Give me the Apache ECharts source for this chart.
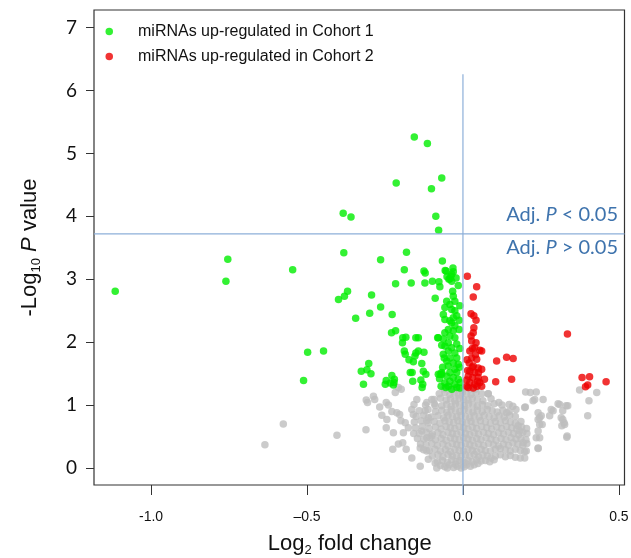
<!DOCTYPE html>
<html><head><meta charset="utf-8">
<script src="https://cdn.jsdelivr.net/npm/echarts@6/dist/echarts.min.js"></script>
<style>html,body{margin:0;padding:0;background:#fff}#c{width:631px;height:558px}</style>
</head><body><div id="c"></div>
<script>
// miRNAs up-regulated in Cohort 1 (green)  [log2 fold change, -log10 P]
const cohort1Points = [
[-1.115,2.81],[-0.754,3.32],[-0.760,2.97],[-0.546,3.15],[-0.511,1.39],[-0.498,1.84],[-0.447,1.86],
[-0.156,5.26],[-0.114,5.16],[-0.214,4.53],[-0.068,4.61],[-0.101,4.44],[-0.384,4.05],[-0.359,3.99],[-0.087,4.00],[-0.078,3.78],
[-0.382,3.42],[-0.181,3.43],[-0.264,3.31],[-0.066,3.29],[-0.188,3.15],[-0.125,3.13],[-0.121,3.10],[-0.057,3.14],[-0.032,3.18],[-0.036,3.08],[-0.051,3.04],[-0.042,3.01],[-0.031,3.12],[-0.054,3.13],[-0.039,3.05],[-0.045,3.00],[-0.036,2.97],
[-0.216,2.93],[-0.166,2.94],[-0.122,2.94],[-0.098,2.97],[-0.077,2.96],[-0.074,2.88],
[-0.399,2.68],[-0.380,2.73],[-0.370,2.81],[-0.293,2.75],[-0.264,2.56],[-0.299,2.46],[-0.344,2.38],[-0.227,2.44],[-0.089,2.70],
[-0.033,2.81],[-0.031,2.73],[-0.052,2.65],[-0.042,2.60],[-0.026,2.65],[-0.036,2.52],[-0.026,2.50],[-0.020,2.42],[-0.031,2.39],[-0.042,2.34],[-0.063,2.44],[-0.058,2.36],[-0.036,2.31],[-0.026,2.26],[-0.047,2.20],[-0.058,2.15],[-0.031,2.18],[-0.042,2.10],[-0.026,2.07],[-0.063,2.05],[-0.079,2.07],[-0.047,1.99],[-0.020,1.97],[-0.058,1.94],[-0.036,1.91],[-0.047,1.86],[-0.026,1.83],[-0.063,1.81],[-0.042,1.75],[-0.020,1.75],[-0.052,1.70],[-0.031,1.67],[-0.015,1.65],[-0.047,1.62],[-0.026,1.57],[-0.042,1.52],[-0.020,1.52],[-0.052,1.46],[-0.031,1.44],[-0.068,1.49],[-0.015,1.41],[-0.042,1.38],[-0.026,1.33],[-0.047,1.30],[-0.020,1.28],[-0.036,1.25],
[-0.010,2.58],[-0.012,2.20],[-0.010,1.90],[-0.011,1.60],[-0.009,1.36],[-0.060,1.75],[-0.065,1.60],[-0.058,1.35],[-0.070,1.30],[-0.075,1.42],[-0.015,2.90],[-0.058,2.55],[-0.012,2.35],[-0.068,1.95],[-0.055,1.28],[-0.010,1.27],[-0.022,3.02],
[-0.229,2.15],[-0.216,2.18],[-0.193,2.07],[-0.183,2.08],[-0.194,1.99],[-0.151,2.07],[-0.143,2.07],[-0.081,2.07],
[-0.188,1.86],[-0.185,1.81],[-0.151,1.83],[-0.143,1.86],[-0.125,1.84],[-0.154,1.78],[-0.173,1.72],[-0.159,1.69],[-0.132,1.66],
[-0.302,1.66],[-0.326,1.54],[-0.308,1.56],[-0.295,1.50],[-0.319,1.33],
[-0.246,1.39],[-0.228,1.47],[-0.220,1.41],[-0.249,1.33],[-0.223,1.32],[-0.233,1.35],[-0.221,1.36],
[-0.163,1.52],[-0.161,1.38],[-0.119,1.49],[-0.135,1.40],[-0.129,1.33],[-0.131,1.28],[-0.073,1.49],[-0.068,1.52],[-0.079,1.49],[-0.127,1.54],[-0.169,1.52]
];
// miRNAs up-regulated in Cohort 2 (red)
const cohort2Points = [
[0.014,3.05],[0.044,2.88],[0.033,2.72],[0.026,2.45],[0.035,2.42],[0.042,2.35],[0.035,2.23],[0.033,2.15],[0.028,2.02],[0.042,1.99],[0.038,1.91],[0.054,1.87],[0.060,1.86],[0.022,1.86],[0.028,1.75],[0.044,1.73],[0.020,1.67],[0.033,1.62],[0.049,1.59],[0.060,1.57],[0.022,1.54],[0.038,1.52],[0.017,1.46],[0.031,1.44],[0.049,1.44],[0.022,1.36],[0.038,1.33],[0.054,1.36],[0.017,1.28],[0.033,1.27],[0.069,1.41],[0.108,1.70],[0.140,1.76],[0.161,1.74],[0.105,1.37],[0.156,1.41],[0.335,2.13],[0.382,1.44],[0.406,1.45],[0.393,1.29],[0.400,1.32],[0.459,1.37],
[0.012,1.40],[0.015,1.55],[0.013,1.72],[0.045,1.30],[0.050,1.52],[0.030,1.90],[0.030,1.60],[0.026,2.10],[0.040,1.80],[0.047,1.38],[0.060,1.30],[0.012,1.30]
];
// not significant (grey)
const nsPoints = [
[-0.072,0.04],[-0.058,0.02],[-0.044,0.05],[-0.030,0.01],[-0.018,0.03],[-0.006,0.00],[0.004,0.02],[0.012,0.05],[-0.050,0.00],[-0.024,0.06],[0.008,0.08],[0.024,0.03],[0.036,0.05],[0.048,0.07],
[-0.082,0.10],[-0.066,0.12],[-0.050,0.09],[-0.036,0.13],[-0.022,0.10],[-0.010,0.12],[0.002,0.09],[0.016,0.12],[0.030,0.10],[0.044,0.13],[0.058,0.11],[0.072,0.12],[0.086,0.10],[0.100,0.13],
[-0.098,0.19],[-0.080,0.21],[-0.064,0.18],[-0.048,0.22],[-0.034,0.19],[-0.020,0.20],[-0.006,0.18],[0.008,0.21],[0.022,0.19],[0.036,0.22],[0.050,0.18],[0.064,0.21],[0.078,0.19],[0.090,0.16],[0.104,0.19],[0.120,0.21],[0.136,0.18],[0.152,0.20],[0.168,0.17],[0.184,0.16],
[-0.126,0.29],[-0.108,0.28],[-0.090,0.30],[-0.072,0.27],[-0.056,0.29],[-0.040,0.26],[-0.026,0.30],[-0.012,0.28],[0.002,0.27],[0.016,0.30],[0.030,0.28],[0.044,0.26],[0.058,0.30],[0.072,0.28],[0.088,0.27],[0.104,0.30],[0.120,0.31],[0.136,0.29],[0.152,0.27],[0.168,0.30],[0.184,0.28],[0.198,0.26],
[-0.136,0.38],[-0.118,0.37],[-0.100,0.39],[-0.082,0.36],[-0.064,0.38],[-0.048,0.35],[-0.034,0.39],[-0.020,0.37],[-0.006,0.36],[0.008,0.39],[0.022,0.37],[0.036,0.35],[0.050,0.38],[0.066,0.36],[0.082,0.39],[0.098,0.37],[0.114,0.35],[0.130,0.38],[0.146,0.36],[0.160,0.40],[0.176,0.38],[0.192,0.36],[0.205,0.39],
[-0.146,0.47],[-0.126,0.46],[-0.106,0.48],[-0.088,0.45],[-0.070,0.47],[-0.054,0.44],[-0.040,0.48],[-0.026,0.46],[-0.012,0.45],[0.002,0.48],[0.016,0.46],[0.030,0.44],[0.044,0.47],[0.058,0.45],[0.074,0.48],[0.090,0.46],[0.106,0.44],[0.122,0.47],[0.138,0.45],[0.154,0.48],[0.170,0.46],[0.186,0.47],[0.202,0.45],
[-0.158,0.55],[-0.140,0.55],[-0.118,0.57],[-0.098,0.54],[-0.080,0.56],[-0.064,0.53],[-0.048,0.57],[-0.034,0.55],[-0.020,0.54],[-0.006,0.57],[0.008,0.55],[0.022,0.53],[0.036,0.56],[0.050,0.54],[0.066,0.57],[0.082,0.55],[0.098,0.53],[0.114,0.56],[0.130,0.54],[0.146,0.57],[0.162,0.55],[0.178,0.53],[0.192,0.57],[0.205,0.55],
[-0.152,0.64],[-0.130,0.66],[-0.108,0.63],[-0.088,0.65],[-0.070,0.62],[-0.054,0.66],[-0.040,0.64],[-0.026,0.63],[-0.012,0.66],[0.002,0.64],[0.016,0.62],[0.030,0.65],[0.044,0.63],[0.060,0.66],[0.076,0.64],[0.092,0.62],[0.108,0.65],[0.124,0.63],[0.140,0.66],[0.156,0.64],[0.172,0.62],[0.188,0.65],[0.204,0.63],
[-0.156,0.73],[-0.134,0.75],[-0.112,0.72],[-0.092,0.74],[-0.074,0.71],[-0.058,0.75],[-0.044,0.73],[-0.030,0.72],[-0.016,0.75],[-0.002,0.73],[0.012,0.71],[0.026,0.74],[0.040,0.72],[0.056,0.75],[0.072,0.73],[0.088,0.71],[0.104,0.74],[0.120,0.72],[0.136,0.75],[0.152,0.73],[0.168,0.71],[0.186,0.74],
[-0.150,0.82],[-0.126,0.84],[-0.102,0.81],[-0.080,0.83],[-0.062,0.80],[-0.048,0.84],[-0.034,0.82],[-0.020,0.81],[-0.006,0.84],[0.008,0.82],[0.022,0.80],[0.036,0.83],[0.052,0.81],[0.068,0.84],[0.084,0.82],[0.100,0.80],[0.116,0.83],[0.132,0.81],[0.150,0.84],[0.168,0.82],
[-0.140,0.91],[-0.112,0.93],[-0.088,0.90],[-0.068,0.92],[-0.052,0.89],[-0.038,0.93],[-0.024,0.91],[-0.010,0.90],[0.004,0.93],[0.018,0.91],[0.032,0.89],[0.046,0.92],[0.062,0.90],[0.078,0.93],[0.094,0.91],[0.110,0.89],[0.128,0.92],[0.148,0.90],[0.170,0.93],
[-0.120,1.00],[-0.092,1.02],[-0.068,0.99],[-0.052,1.01],[-0.038,0.98],[-0.024,1.02],[-0.010,1.00],[0.004,0.99],[0.018,1.02],[0.032,1.00],[0.046,0.98],[0.062,1.01],[0.080,0.99],[0.100,1.02],[0.125,1.00],[0.160,0.98],
[-0.100,1.09],[-0.072,1.11],[-0.054,1.08],[-0.040,1.10],[-0.026,1.07],[-0.012,1.11],[0.002,1.09],[0.016,1.08],[0.030,1.11],[0.046,1.09],[0.064,1.07],[0.090,1.10],
[-0.076,1.18],[-0.058,1.20],[-0.042,1.17],[-0.028,1.19],[-0.014,1.16],[-0.002,1.20],[0.012,1.18],[0.026,1.17],[0.042,1.20],[0.060,1.18],[0.081,1.18],
[-0.060,1.26],[-0.044,1.28],[-0.030,1.25],[-0.016,1.27],[-0.004,1.24],[0.010,1.28],[0.024,1.26],[0.040,1.25],
[-0.576,0.70],[-0.404,0.52],[-0.311,0.61],[-0.635,0.37],
[-0.310,1.08],[-0.306,1.04],[-0.287,1.14],[-0.283,1.09],[-0.267,0.97],[-0.246,1.04],[-0.239,1.00],[-0.260,0.84],[-0.244,0.77],[-0.246,0.64],[-0.228,0.90],[-0.217,1.20],[-0.207,1.28],[-0.198,1.25],[-0.223,0.56],[-0.212,0.88],[-0.203,0.85],[-0.199,0.75],[-0.225,0.30],[-0.207,0.38],[-0.193,0.40],[-0.182,0.30],[-0.164,0.16],[-0.137,0.03],[-0.185,0.72],[-0.175,0.64],[-0.191,0.56],[-0.164,0.93],[-0.157,1.01],[-0.148,1.09],[-0.159,0.85],[-0.116,1.04],[-0.093,1.09],[-0.089,0.99],[-0.121,0.91],[-0.111,0.80],[-0.116,0.75],[-0.132,0.59],[-0.116,0.48],[-0.100,0.51],[-0.137,0.32],[-0.116,0.27],[-0.111,0.14],[-0.089,0.08],[-0.084,0.00],
[0.115,1.04],[0.148,1.01],[0.201,1.21],[0.216,1.20],[0.235,1.21],[0.225,1.07],[0.257,1.09],[0.140,0.88],[0.198,0.96],[0.241,0.88],[0.246,0.80],[0.278,0.83],[0.289,0.91],[0.310,1.01],[0.331,0.99],[0.320,0.91],[0.320,0.77],[0.326,0.69],[0.333,0.49],[0.246,0.69],[0.241,0.59],[0.235,0.48],[0.241,0.31],[0.193,0.40],[0.203,0.27],[0.198,0.16],[0.177,0.67],[0.182,0.59],[0.400,0.83],[0.404,1.07],[0.429,1.20],[0.374,1.24],[0.230,1.09],[0.200,0.97],[0.251,0.83],[0.241,0.77],[0.254,0.69],[0.283,0.93],[0.305,1.02],[0.336,0.99],[0.315,0.80],[0.324,0.72],[0.317,0.67],[0.246,0.48],[0.334,0.51],[0.241,0.32],[0.081,1.18]
];

const legendNames = ['miRNAs up-regulated in Cohort 1', 'miRNAs up-regulated in Cohort 2'];
const xTickValues = [-1, -0.5, 0, 0.5];
const xTickLabels = ['-1.0', '\u20130.5', '0.0', '0.5'];
const yTickValues = [0, 1, 2, 3, 4, 5, 6, 7];
const yTickLabels = ['0', '1', '2', '3', '4', '5', '6', '7'];
const xRange = [-1.183, 0.518];
const yRange = [-0.27, 7.28];
const thresholdY = 3.72;          // Adj. P = 0.05 cut-off
const zeroLineTop = 6.26;
const zeroLineBottom = -0.43;

function pick(values, labels, v) {
  for (let i = 0; i < values.length; i++) if (Math.abs(values[i] - v) < 1e-9) return labels[i];
  return '';
}

const chart = echarts.init(document.getElementById('c'));
const blue = '#8dafd9';
const textBlue = '#3e73ad';
chart.setOption({
  animation: false,
  grid: { left: 94, right: 6.5, top: 10, bottom: 73, show: true, borderColor: '#333', borderWidth: 1.2,
          containLabel: false, outerBoundsMode: 'none' },
  legend: {
    data: legendNames, orient: 'vertical', left: 105.5, top: 22.5, padding: 0,
    icon: 'circle', itemWidth: 7.5, itemHeight: 7.5, itemGap: 7,
    textStyle: { fontFamily: 'Liberation Sans', fontSize: 16, color: '#111', lineHeight: 18, padding: [0, 0, 0, 20] }
  },
  xAxis: {
    type: 'value', min: xRange[0], max: xRange[1],
    axisLine: { show: false, onZero: false }, splitLine: { show: false },
    axisTick: { show: true, length: 10, customValues: xTickValues, lineStyle: { color: '#333' } },
    axisLabel: { customValues: xTickValues, formatter: v => pick(xTickValues, xTickLabels, v),
      margin: 25, fontFamily: 'Liberation Sans', fontSize: 14, color: '#111' },
    name: '{a|Log}{s|2}{a| fold change}', nameLocation: 'middle', nameGap: 46,
    nameTextStyle: { padding: [0, 19, 0, 0], color: '#111',
      rich: { a: { fontFamily: 'Liberation Sans', fontSize: 22, lineHeight: 26, color: '#111' },
              s: { fontFamily: 'Liberation Sans', fontSize: 13, lineHeight: 13, verticalAlign: 'bottom', color: '#111' } } }
  },
  yAxis: {
    type: 'value', min: yRange[0], max: yRange[1],
    axisLine: { show: false, onZero: false }, splitLine: { show: false },
    axisTick: { show: true, length: 8, customValues: yTickValues, lineStyle: { color: '#333' } },
    axisLabel: { customValues: yTickValues, formatter: v => pick(yTickValues, yTickLabels, v),
      margin: 17, fontFamily: 'Lato', fontSize: 19, color: '#111' },
    name: '{a|-Log}{s|10}{a| }{i|P}{a| value}', nameLocation: 'middle', nameRotate: 90, nameGap: 51,
    nameTextStyle: { color: '#111',
      rich: { a: { fontFamily: 'Liberation Sans', fontSize: 22, lineHeight: 26, color: '#111' },
              i: { fontFamily: 'Liberation Sans', fontSize: 22, lineHeight: 26, fontStyle: 'italic', color: '#111' },
              s: { fontFamily: 'Liberation Sans', fontSize: 13, lineHeight: 13, verticalAlign: 'bottom', color: '#111' } } }
  },
  graphic: [
    { type: 'text', x: 618, y: 215, z: 10, style: { text: '{a|Adj. }{i|P}{a| < 0.05}', align: 'right', verticalAlign: 'middle',
      fill: textBlue, fontFamily: 'Lato', fontSize: 20,
      rich: { a: { fill: textBlue, fontFamily: 'Lato', fontSize: 20 }, i: { fill: textBlue, fontFamily: 'Lato', fontSize: 20, fontStyle: 'italic' } } } },
    { type: 'text', x: 618, y: 247.5, z: 10, style: { text: '{a|Adj. }{i|P}{a| > 0.05}', align: 'right', verticalAlign: 'middle',
      fill: textBlue, fontFamily: 'Lato', fontSize: 20,
      rich: { a: { fill: textBlue, fontFamily: 'Lato', fontSize: 20 }, i: { fill: textBlue, fontFamily: 'Lato', fontSize: 20, fontStyle: 'italic' } } } }
  ],
  series: [
    { type: 'scatter', name: 'ns', data: nsPoints, symbolSize: 7.5, itemStyle: { color: '#bebebe' }, z: 1, silent: true },
    { type: 'scatter', name: legendNames[0], data: cohort1Points, symbolSize: 7.5, itemStyle: { color: '#00ee00' }, z: 2 },
    { type: 'scatter', name: legendNames[1], data: cohort2Points, symbolSize: 7.5, itemStyle: { color: '#ee0000' }, z: 2 },
    { type: 'line', name: 'zero', data: [[0, zeroLineTop], [0, zeroLineBottom]], symbol: 'none', clip: false, silent: true, z: 5,
      lineStyle: { color: blue, width: 1.2 } },
    { type: 'line', name: 'cutoff', data: [[xRange[0], thresholdY], [xRange[1], thresholdY]], symbol: 'none', silent: true, z: 5,
      lineStyle: { color: blue, width: 1.2 } }
  ]
});
</script></body></html>
